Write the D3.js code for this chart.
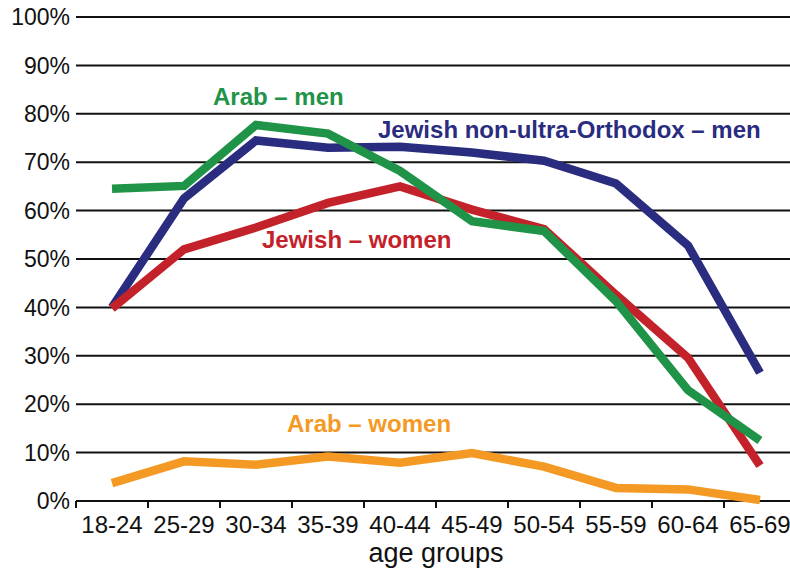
<!DOCTYPE html>
<html>
<head>
<meta charset="utf-8">
<script src="https://cdn.jsdelivr.net/npm/d3@7"></script>
<style>
  body { margin: 0; background: #fff; }
  text { font-family: "Liberation Sans", Arial, Helvetica, sans-serif; }
</style>
</head>
<body>
<div id="chart"></div>
<script>
var ageGroups = ["18-24", "25-29", "30-34", "35-39", "40-44", "45-49", "50-54", "55-59", "60-64", "65-69"];
var yTicks = [0, 10, 20, 30, 40, 50, 60, 70, 80, 90, 100];

var jewishMen = [40, 62.5, 74.5, 73, 73.2, 72, 70.3, 65.6, 52.8, 26.5];
var jewishWomen = [39.8, 52, 56.5, 61.6, 65, 60.2, 56.2, 42.6, 29.6, 7.3];
var arabMen = [64.5, 65.1, 77.7, 75.9, 68.2, 57.8, 55.8, 41.3, 22.9, 12.5];
var arabWomen = [3.7, 8.2, 7.5, 9.2, 7.9, 9.9, 7.1, 2.7, 2.4, 0.2];

var svgWidth = 790;
var svgHeight = 573;

var margin = {
  top: 17,
  right: -6,
  bottom: 72,
  left: 76
};

var width = svgWidth - margin.left - margin.right;
var height = svgHeight - margin.top - margin.bottom;

var svg = d3.select("#chart")
  .append("svg")
  .attr("width", svgWidth)
  .attr("height", svgHeight);

var chartGroup = svg.append("g")
  .attr("transform", `translate(${margin.left}, ${margin.top})`);

var xBandScale = d3.scaleBand()
  .domain(ageGroups)
  .range([0, width]);

var yLinearScale = d3.scaleLinear()
  .domain([0, 100])
  .range([height, 0]);

// horizontal gridlines
chartGroup.selectAll(".grid")
  .data(yTicks.filter(d => d > 0))
  .enter()
  .append("line")
  .attr("class", "grid")
  .attr("x1", 0)
  .attr("x2", width)
  .attr("y1", d => yLinearScale(d))
  .attr("y2", d => yLinearScale(d))
  .attr("stroke", "#111")
  .attr("stroke-width", 2);

// y labels
chartGroup.selectAll(".ylab")
  .data(yTicks)
  .enter()
  .append("text")
  .attr("class", "ylab")
  .attr("x", -6)
  .attr("y", d => yLinearScale(d))
  .attr("dy", "0.36em")
  .attr("text-anchor", "end")
  .attr("font-size", 23)
  .attr("fill", "#111")
  .text(d => d + "%");

// x axis
var bottomAxis = d3.axisBottom(xBandScale).tickSize(0).tickPadding(15);
var xAxis = chartGroup.append("g")
  .attr("transform", `translate(0, ${height})`)
  .call(bottomAxis);
xAxis.select(".domain").remove();
xAxis.selectAll("text")
  .attr("font-size", 24)
  .attr("font-family", "Liberation Sans, Arial, sans-serif")
  .attr("fill", "#111");

chartGroup.append("line")
  .attr("x1", 0)
  .attr("x2", width)
  .attr("y1", height)
  .attr("y2", height)
  .attr("stroke", "#111")
  .attr("stroke-width", 2);

chartGroup.selectAll(".xtick")
  .data(ageGroups)
  .enter()
  .append("line")
  .attr("class", "xtick")
  .attr("x1", d => xBandScale(d))
  .attr("x2", d => xBandScale(d))
  .attr("y1", height)
  .attr("y2", height + 7)
  .attr("stroke", "#111")
  .attr("stroke-width", 2);

chartGroup.append("text")
  .attr("x", xBandScale.range()[1] / 2)
  .attr("y", height + 61)
  .attr("text-anchor", "middle")
  .attr("font-size", 27)
  .attr("fill", "#111")
  .text("age groups");

var line = d3.line()
  .x((d, i) => xBandScale(ageGroups[i]) + xBandScale.bandwidth() / 2)
  .y(d => yLinearScale(d));

var series = [
  { values: jewishMen, color: "#2a2c80" },
  { values: jewishWomen, color: "#c4222a" },
  { values: arabMen, color: "#1f9347" },
  { values: arabWomen, color: "#f49a24" }
];

chartGroup.selectAll(".series")
  .data(series)
  .enter()
  .append("path")
  .attr("class", "series")
  .attr("d", d => line(d.values))
  .attr("fill", "none")
  .attr("stroke", d => d.color)
  .attr("stroke-width", 8.5)
  .attr("stroke-linejoin", "miter");

// series labels
var labels = [
  { text: "Arab – men", color: "#1f9347", x: 137, y: 88 },
  { text: "Jewish non-ultra-Orthodox – men", color: "#2a2c80", x: 302, y: 121 },
  { text: "Jewish – women", color: "#c4222a", x: 186, y: 231 },
  { text: "Arab – women", color: "#f49a24", x: 211, y: 415 }
];

chartGroup.selectAll(".slab")
  .data(labels)
  .enter()
  .append("text")
  .attr("class", "slab")
  .attr("x", d => d.x)
  .attr("y", d => d.y)
  .attr("font-size", 24)
  .attr("font-weight", "bold")
  .attr("fill", d => d.color)
  .text(d => d.text);
</script>
</body>
</html>
